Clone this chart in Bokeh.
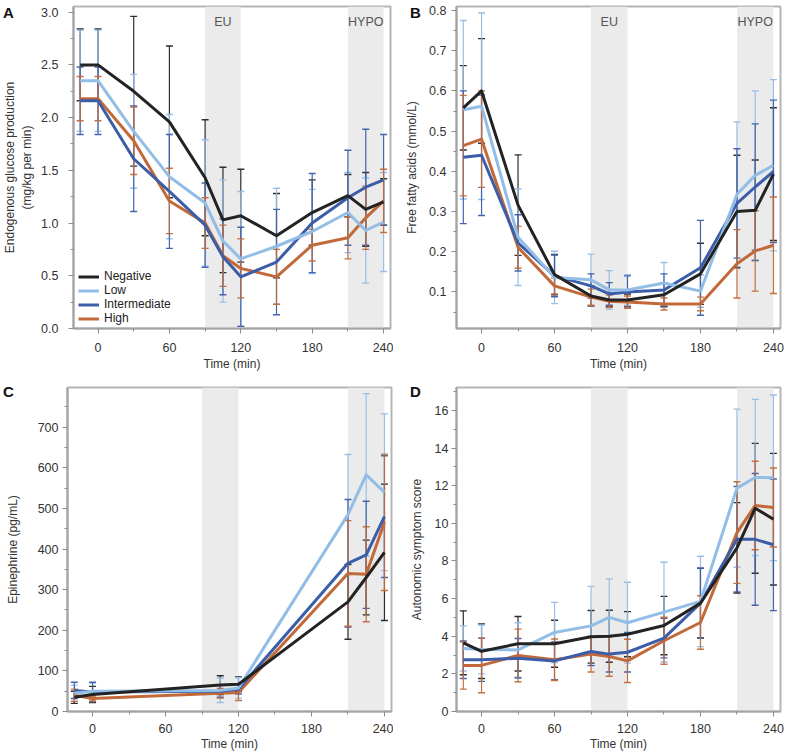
import numpy as np
from bokeh.plotting import figure
from bokeh.layouts import column, row
from bokeh.models import (BoxAnnotation, FixedTicker, NumeralTickFormatter, Range1d,
                          Legend, LegendItem, Div)
from bokeh.core.properties import value
from bokeh.embed import file_html
from bokeh.resources import INLINE

# ---------------- data ----------------
groups = ["Negative", "Low", "Intermediate", "High"]
colors = ["#232323", "#92bde6", "#3c5ea8", "#c2693a"]
eu_window = [90, 120]
hypo_window = [210, 240]
zone_labels = ["EU", "HYPO"]
panel_letters = ["A", "B", "C", "D"]

time = [-15, 0, 30, 60, 90, 105, 120, 150, 180, 210, 225, 240]
time_epi = [-15, 0, 105, 120, 210, 225, 240]

x_ticks = [0, 60, 120, 180, 240]
x_minor = [30, 90, 150, 210]

# A: endogenous glucose production
egp_neg = [2.50, 2.50, 2.25, 1.96, 1.43, 1.03, 1.07, 0.88, 1.10, 1.26, 1.13, 1.20]
egp_neg_sd = [0.34, 0.34, 0.71, 0.72, 0.55, 0.50, 0.44, 0.40, 0.31, 0.20, 0.35, 0.22]
egp_low = [2.35, 2.35, 1.87, 1.44, 1.19, 0.83, 0.66, 0.78, 0.92, 1.10, 0.93, 1.01]
egp_low_sd = [0.48, 0.48, 0.54, 0.59, 0.60, 0.58, 0.64, 0.55, 0.40, 0.38, 0.50, 0.47]
egp_int = [2.16, 2.16, 1.61, 1.30, 0.98, 0.68, 0.49, 0.63, 1.00, 1.24, 1.34, 1.41]
egp_int_sd = [0.32, 0.32, 0.50, 0.54, 0.40, 0.36, 0.47, 0.50, 0.47, 0.45, 0.55, 0.43]
egp_high = [2.18, 2.18, 1.78, 1.21, 1.00, 0.69, 0.57, 0.49, 0.79, 0.86, 1.05, 1.21]
egp_high_sd = [0.21, 0.21, 0.32, 0.31, 0.24, 0.29, 0.28, 0.26, 0.15, 0.20, 0.30, 0.30]

# B: free fatty acids
ffa_neg = [0.558, 0.600, 0.316, 0.143, 0.090, 0.080, 0.080, 0.093, 0.145, 0.300, 0.303, 0.393]
ffa_neg_sd = [0.105, 0.130, 0.125, 0.050, 0.025, 0.017, 0.015, 0.030, 0.076, 0.140, 0.125, 0.165]
ffa_low = [0.553, 0.562, 0.236, 0.136, 0.130, 0.105, 0.105, 0.122, 0.102, 0.343, 0.390, 0.415]
ffa_low_sd = [0.222, 0.232, 0.120, 0.065, 0.064, 0.048, 0.038, 0.051, 0.040, 0.180, 0.210, 0.213]
ffa_int = [0.435, 0.440, 0.222, 0.140, 0.115, 0.095, 0.100, 0.105, 0.160, 0.320, 0.361, 0.400]
ffa_int_sd = [0.165, 0.150, 0.070, 0.052, 0.030, 0.028, 0.040, 0.040, 0.118, 0.136, 0.157, 0.177]
ffa_high = [0.464, 0.480, 0.211, 0.115, 0.087, 0.077, 0.075, 0.070, 0.070, 0.170, 0.202, 0.216]
ffa_high_sd = [0.125, 0.120, 0.052, 0.020, 0.020, 0.015, 0.015, 0.015, 0.017, 0.085, 0.100, 0.120]

# C: epinephrine
epi_neg = [35, 42, 65, 67, 270, 330, 392]
epi_neg_sd = [15, 20, 23, 18, 92, 92, 168]
epi_low = [45, 50, 52, 58, 485, 583, 540]
epi_low_sd = [20, 20, 30, 25, 148, 200, 193]
epi_int = [52, 48, 50, 55, 365, 386, 480]
epi_int_sd = [20, 24, 15, 12, 157, 132, 150]
epi_high = [40, 32, 45, 47, 340, 338, 466]
epi_high_sd = [15, 6, 12, 20, 130, 117, 168]

# D: autonomic symptom score
sym_neg = [3.65, 3.20, 3.60, 3.60, 3.97, 4.00, 4.11, 4.57, 5.76, 8.70, 10.80, 10.22]
sym_neg_sd = [1.70, 1.45, 1.45, 1.25, 1.40, 1.38, 1.20, 1.55, 1.85, 2.40, 3.45, 3.50]
sym_low = [3.35, 3.30, 3.27, 4.20, 4.55, 5.00, 4.72, 5.28, 5.85, 11.87, 12.44, 12.42]
sym_low_sd = [1.20, 1.30, 1.45, 1.60, 2.10, 2.05, 2.15, 2.65, 2.40, 4.20, 4.15, 4.40]
sym_int = [2.75, 2.75, 2.83, 2.69, 3.19, 3.05, 3.15, 3.90, 5.76, 9.16, 9.15, 8.86]
sym_int_sd = [1.00, 1.15, 1.05, 1.00, 0.75, 0.95, 1.05, 1.05, 1.85, 2.80, 3.50, 3.50]
sym_high = [2.44, 2.45, 2.98, 2.75, 3.05, 2.92, 2.69, 3.76, 4.73, 9.51, 10.95, 10.84]
sym_high_sd = [1.25, 1.45, 1.40, 1.10, 0.95, 1.05, 1.15, 1.25, 1.42, 2.70, 2.35, 2.10]

FONT = "Liberation Sans"
XLIM = (-20.6, 245.8)
W, H = 393, 378


def make_panel(t, series, sds, ylim, yticks, yminor, fmt, ylabel, geo,
               ystand, ylabstand, xstand, xlabstand, zone_text=False, legend=False):
    left, right, top, bottom = geo
    p = figure(width=W, height=H, output_backend="svg", toolbar_location=None,
               x_range=Range1d(*XLIM), y_range=Range1d(*ylim),
               min_border_left=left, min_border_right=right,
               min_border_top=top, min_border_bottom=bottom)
    p.xgrid.visible = False
    p.ygrid.visible = False
    p.outline_line_color = "#b5b5b5"
    p.outline_line_width = 2
    p.background_fill_color = "white"
    p.border_fill_alpha = 0

    for win in (eu_window, hypo_window):
        p.add_layout(BoxAnnotation(left=win[0], right=win[1], fill_color="#ebebeb",
                                   fill_alpha=1.0, line_alpha=0, level="underlay"))
    if zone_text:
        centers = [(eu_window[0] + eu_window[1]) / 2, (hypo_window[0] + hypo_window[1]) / 2]
        p.text(x=centers, y=[ylim[1], ylim[1]], text=zone_labels, text_align="center",
               text_baseline="top", y_offset=8, text_font=value(FONT),
               text_font_size="12.5px", text_color="#555555")

    tt = np.array(t, dtype=float)
    for m, s, c in zip(series, sds, colors):
        m = np.array(m, dtype=float)
        s = np.array(s, dtype=float)
        up, lo = m + s, m - s
        p.segment(x0=tt, y0=lo, x1=tt, y1=up, line_color=c, line_width=1.2, line_alpha=0.95)
        p.scatter(x=np.concatenate([tt, tt]), y=np.concatenate([up, lo]), marker="dash",
                  size=7, line_color=c, line_width=1.4, line_alpha=0.95)
    rends = {}
    for i in [3, 2, 1, 0]:
        rends[i] = p.line(tt, series[i], line_color=colors[i], line_width=3, line_join="round")

    if legend:
        lg = Legend(items=[LegendItem(label=groups[i], renderers=[rends[i]]) for i in range(4)],
                    location=(5, 3), background_fill_alpha=0, border_line_alpha=0,
                    padding=0, margin=0, spacing=0, label_height=13, glyph_height=13,
                    glyph_width=21, label_standoff=5, label_text_font=FONT,
                    label_text_font_size="12px", label_text_line_height=1.0,
                    label_text_color="#222222")
        p.add_layout(lg)

    for ax in (p.xaxis[0], p.yaxis[0]):
        ax.axis_line_color = "#a3a3a3"
        ax.axis_line_width = 2
        ax.major_tick_line_color = "#8c8c8c"
        ax.minor_tick_line_color = "#8c8c8c"
        ax.major_tick_in = 0
        ax.major_tick_out = 5
        ax.minor_tick_in = 0
        ax.minor_tick_out = 3
        ax.major_label_text_font = FONT
        ax.major_label_text_font_size = "12.5px"
        ax.major_label_text_color = "#333333"
        ax.axis_label_text_font = FONT
        ax.axis_label_text_font_size = "12px"
        ax.axis_label_text_font_style = "normal"
        ax.axis_label_text_color = "#333333"

    p.xaxis.major_label_standoff = xstand
    p.xaxis.axis_label_standoff = xlabstand
    p.yaxis.major_label_standoff = ystand
    p.yaxis.axis_label_standoff = ylabstand

    p.xaxis.ticker = FixedTicker(ticks=x_ticks, minor_ticks=x_minor)
    p.xaxis.axis_label = "Time (min)"
    p.yaxis.ticker = FixedTicker(ticks=yticks, minor_ticks=yminor)
    p.yaxis.formatter = NumeralTickFormatter(format=fmt)
    p.yaxis.axis_label = ylabel
    return p


pa = make_panel(time, [egp_neg, egp_low, egp_int, egp_high],
                [egp_neg_sd, egp_low_sd, egp_int_sd, egp_high_sd],
                (0.0, 3.054), [0, 0.5, 1.0, 1.5, 2.0, 2.5, 3.0],
                [0.25, 0.75, 1.25, 1.75, 2.25, 2.75], "0.0",
                "Endogenous glucose production\n(mg/kg per min)",
                (67, 3, 5, 50), 10, 4, 9, 2, zone_text=True, legend=True)

pb = make_panel(time, [ffa_neg, ffa_low, ffa_int, ffa_high],
                [ffa_neg_sd, ffa_low_sd, ffa_int_sd, ffa_high_sd],
                (0.009, 0.81), [0.1, 0.2, 0.3, 0.4, 0.5, 0.6, 0.7, 0.8],
                [0.05, 0.15, 0.25, 0.35, 0.45, 0.55, 0.65, 0.75], "0.0",
                "Free fatty acids (mmol/L)",
                (63, 6, 6, 49), 5, 7, 9, 2, zone_text=True)

pc = make_panel(time_epi, [epi_neg, epi_low, epi_int, epi_high],
                [epi_neg_sd, epi_low_sd, epi_int_sd, epi_high_sd],
                (0, 798), [0, 100, 200, 300, 400, 500, 600, 700],
                [50, 150, 250, 350, 450, 550, 650, 750], "0",
                "Epinephrine (pg/mL)",
                (67, 2, 9, 45), 4, 15, 7, 1)

pd_ = make_panel(time, [sym_neg, sym_low, sym_int, sym_high],
                 [sym_neg_sd, sym_low_sd, sym_int_sd, sym_high_sd],
                 (0, 17.22), [0, 2, 4, 6, 8, 10, 12, 14, 16],
                 [1, 3, 5, 7, 9, 11, 13, 15, 17], "0",
                 "Autonomic symptom score",
                 (63, 6, 8, 45), 3, 8, 7, 1)

# panel letters as an overlay of real text
letter_pos = [(3, 5), (410, 5), (3, 384), (410, 384)]
spans = "".join(
    f'<span style="position:absolute;left:{x}px;top:{y}px;">{t}</span>'
    for t, (x, y) in zip(panel_letters, letter_pos))
letters = Div(text=spans, margin=0, width=0, height=0,
              styles={"position": "absolute", "left": "0px", "top": "0px",
                      "z-index": "10", "overflow": "visible",
                      "font-family": "'Liberation Sans', Arial, sans-serif",
                      "font-size": "15px", "font-weight": "bold", "line-height": "1",
                      "color": "#111111"})

layout = column(letters, row(pa, pb, spacing=0), row(pc, pd_, spacing=0), spacing=0)

open("out.html", "w").write(file_html(layout, INLINE))
